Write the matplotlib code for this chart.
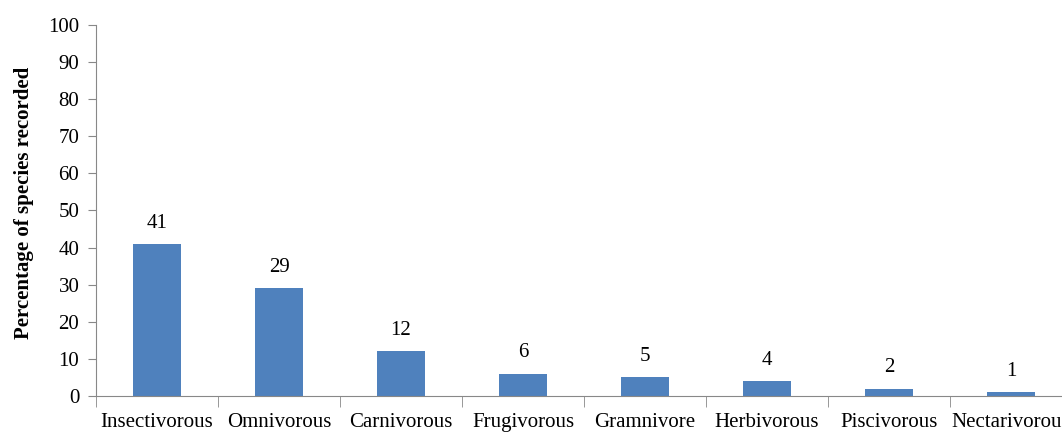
import matplotlib.pyplot as plt
import numpy as np

# Feeding guilds of recorded bird species
guilds = ["Insectivorous", "Omnivorous", "Carnivorous", "Frugivorous",
          "Gramnivore", "Herbivorous", "Piscivorous", "Nectarivorous"]
percent = [41, 29, 12, 6, 5, 4, 2, 1]

plt.rcParams['font.family'] = ['Liberation Serif', 'DejaVu Serif']

fig = plt.figure(figsize=(10.62, 4.34), dpi=100)
ax = fig.add_axes([0.0904, 0.0876, 0.919, 0.855])

x = np.arange(len(guilds))
ax.bar(x, percent, width=0.4, color='#4F81BD', zorder=2)
for xi, v in zip(x, percent):
    ax.text(xi, v + 5.6, str(v), ha='center', va='center', fontsize=15)

ax.set_xlim(-0.5, len(guilds) - 0.5)
ax.set_ylim(0, 100)
ax.set_yticks(range(0, 101, 10))
ax.tick_params(axis='y', labelsize=15, length=6, color='#888888', pad=6)

# category labels centred on bars, tick marks between categories
ax.set_xticks(x)
ax.set_xticklabels(guilds, fontsize=15)
ax.tick_params(axis='x', length=0, pad=12)
ax.set_xticks(np.arange(-0.5, len(guilds)), minor=True)
ax.tick_params(axis='x', which='minor', length=8, color='#888888')

for side in ('top', 'right'):
    ax.spines[side].set_visible(False)
for side in ('left', 'bottom'):
    ax.spines[side].set_color('#888888')

ax.set_ylabel("Percentage of species recorded", fontsize=15,
              fontweight='bold')
ax.yaxis.set_label_coords(-0.064, 0.52)

fig.savefig("out.png", dpi=100)
